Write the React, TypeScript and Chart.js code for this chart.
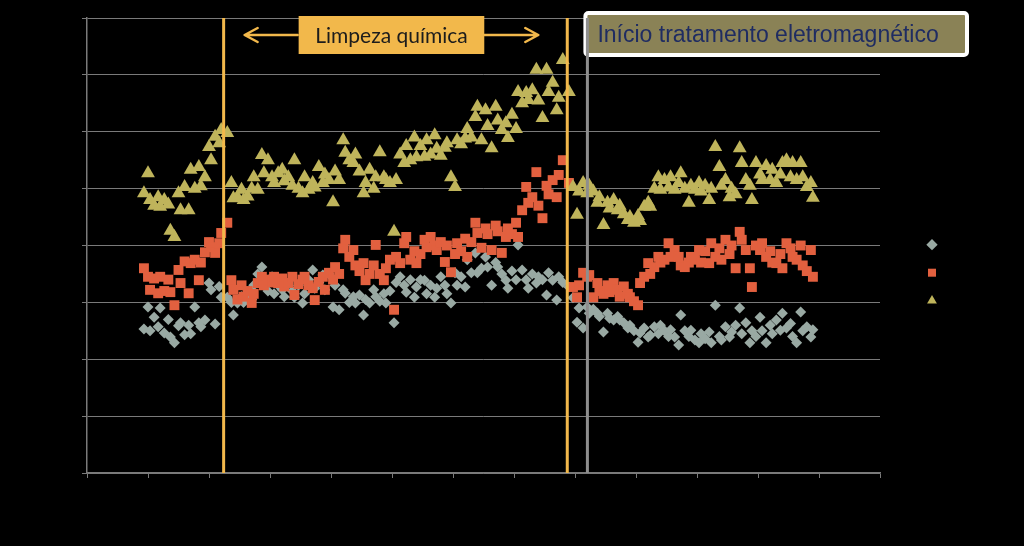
import { useEffect, useRef } from 'react';
import { Chart, registerables } from 'chart.js';

Chart.register(...registerables);

// Dias de medição (eixo X)
const dias = [
  28, 30, 31, 33, 35, 36, 38, 40, 41, 43, 45, 46, 48, 50, 51, 53, 55, 56, 58, 60, 61, 63, 65, 66,
  69, 71, 72, 74, 76, 77, 79, 81, 82, 84,
  86, 87, 89, 91, 92, 94, 96, 97, 99, 101,
  102, 104, 106, 107, 109, 111, 112, 114, 116, 117,
  119, 121, 122, 124, 126, 127, 129, 131, 132, 134,
  136, 137, 139, 141, 142, 144, 146, 147, 149, 151,
  152, 154, 156, 157, 159, 161, 162, 164, 166, 167,
  169, 171, 172, 174, 176, 177, 179, 181, 182, 184,
  186, 187, 189, 191, 192, 194, 196, 197, 199, 201,
  202, 204, 206, 207, 209, 211, 212, 214, 216, 217,
  219, 221, 222, 224, 226, 227, 229, 231, 232, 234, 237,
  239, 241, 242, 244, 246, 247, 249, 251, 252, 254,
  256, 257, 259, 261, 262, 264, 266, 267, 269, 271,
  272, 274, 276, 277, 279, 281, 282, 284, 286, 287,
  289, 291, 292, 294, 296, 297, 299, 301, 302, 304,
  306, 307, 309, 311, 312, 314, 316, 317, 319, 321,
  322, 324, 326, 327, 329, 331, 332, 334, 336, 337,
  339, 341, 342, 344, 346, 347, 349, 351, 352, 354, 356, 357,
];

// Série 1 (losangos cinza)
const serieCinza = [
  25.3, 29.2, 25.0, 27.4, 25.7, 29.0, 24.6, 27.0, 23.9, 22.9, 25.9, 26.4, 24.3, 26.0, 24.5, 29.2, 26.4, 25.7, 26.9, 33.4, 32.2, 26.2, 32.8, 30.9,
  30.9, 30.0, 27.8, 29.9, 31.0, 30.0, 31.5, 30.5, 33.0, 35.0,
  36.2, 33.4, 32.0, 34.5, 31.5, 33.0, 32.2, 31.0, 33.4, 32.0,
  30.9, 33.0, 29.9, 31.5, 34.0, 35.7, 32.5, 33.5, 34.8, 32.2,
  35.0, 29.2, 33.0, 28.7, 32.2, 31.6, 30.0, 31.0, 29.9, 31.3,
  27.8, 30.5, 29.9, 32.2, 31.0, 30.2, 31.5, 29.9, 32.0, 26.4,
  33.5, 34.5, 33.0, 31.8, 34.0, 30.9, 32.7, 34.0, 33.9, 31.5,
  33.0, 30.9, 32.5, 34.5, 33.0, 31.5, 29.9, 35.2, 33.0, 34.5,
  32.7, 37.5, 35.2, 38.7, 35.2, 36.0, 38.0, 36.2, 33.0, 37.0,
  36.2, 35.0, 33.9, 32.5, 35.5, 34.0, 40.1, 35.7, 34.0, 32.5,
  35.0, 33.4, 34.5, 34.0, 31.3, 35.2, 33.9, 30.4, 34.5, 33.5, 32.7,
  30.8, 26.5, 29.0, 25.5, 29.2, 28.1, 28.8, 28.1, 27.5, 24.8,
  28.1, 27.2, 26.9, 27.5, 26.9, 26.4, 25.5, 26.0, 25.0, 23.0,
  24.6, 25.5, 23.9, 24.2, 25.7, 24.5, 26.0, 25.0, 24.0, 25.2,
  23.9, 22.5, 27.8, 25.0, 24.0, 25.1, 23.4, 22.9, 24.5, 23.6,
  24.8, 22.9, 29.5, 24.0, 23.4, 25.7, 23.9, 24.8, 26.0, 29.0,
  24.5, 26.4, 22.9, 25.0, 24.0, 27.4, 25.0, 22.9, 26.0, 24.5,
  26.9, 25.1, 28.1, 25.5, 26.3, 24.0, 22.9, 28.3, 25.0, 25.7, 23.9, 25.2,
];

// Série 2 (quadrados vermelhos)
const serieVermelha = [
  36.0, 34.5, 32.2, 34.2, 31.6, 34.5, 32.0, 34.0, 31.8, 29.5, 35.7, 33.4, 37.2, 31.6, 36.9, 37.5, 33.9, 37.0, 38.8, 40.6, 39.7, 38.7, 40.4, 42.2,
  44.0, 33.9, 32.2, 30.5, 33.0, 31.0, 32.0, 29.9, 31.5, 33.4,
  34.5, 33.0, 34.0, 33.5, 34.5, 33.4, 34.2, 32.8, 33.4, 34.5,
  31.3, 33.2, 34.0, 34.5, 33.0, 32.5, 30.4, 33.6, 34.5, 32.2,
  35.2, 34.0, 36.2, 35.0, 39.5, 41.0, 38.0, 39.2, 36.5, 35.5,
  36.9, 33.9, 35.0, 36.5, 40.1, 35.0, 33.9, 36.0, 37.5, 28.7,
  38.0, 36.9, 40.4, 41.5, 37.5, 39.0, 36.9, 38.5, 41.0, 39.7,
  41.5, 40.0, 39.2, 40.6, 37.1, 40.0, 35.3, 38.5, 40.4, 39.0,
  41.2, 38.0, 40.6, 44.0, 42.2, 39.6, 43.0, 42.0, 39.2, 43.5,
  42.5, 38.7, 41.5, 43.0, 42.0, 44.0, 41.5, 46.2, 50.3, 47.5,
  48.5, 52.9, 47.0, 44.8, 50.5, 49.0, 51.5, 48.5, 52.4, 55.0, 51.0,
  32.7, 30.9, 33.0, 35.2, 34.5, 34.8, 30.9, 33.4, 32.0, 31.5,
  33.0, 31.8, 33.4, 32.2, 31.0, 32.8, 31.5, 30.9, 30.2, 29.5,
  33.4, 34.5, 36.9, 35.0, 36.2, 38.0, 37.0, 37.5, 40.4, 38.0,
  39.2, 38.0, 36.5, 36.2, 37.0, 38.0, 37.5, 39.2, 37.0, 39.0,
  36.9, 40.4, 38.0, 39.5, 37.5, 41.0, 38.5, 40.0, 36.0, 42.4,
  41.0, 39.2, 36.0, 32.7, 40.0, 39.2, 40.4, 38.0, 39.0, 37.0,
  36.9, 38.5, 36.0, 40.4, 39.5, 38.0, 37.5, 40.0, 36.5, 35.5, 39.2, 34.5,
];

// Série 3 (triângulos amarelos)
const serieAmarela = [
  49.2, 52.7, 48.0, 47.0, 48.5, 46.8, 48.0, 47.2, 42.6, 41.5, 49.2, 46.2, 50.3, 46.2, 53.3, 50.0, 53.8, 50.4, 52.0, 57.3, 55.0, 59.1, 58.0, 60.3,
  59.8, 51.0, 48.3, 48.5, 49.8, 48.0, 48.6, 50.0, 52.0, 49.8,
  55.9, 52.7, 55.0, 52.0, 51.0, 52.7, 53.3, 51.3, 52.0, 50.5,
  55.0, 50.0, 49.2, 52.0, 49.8, 51.0, 50.2, 53.8, 51.0, 52.5,
  51.5, 47.6, 53.0, 51.5, 58.5, 56.3, 55.0, 54.5, 56.0, 53.0,
  49.2, 51.0, 53.3, 50.0, 52.0, 56.4, 52.0, 51.5, 51.0, 42.4,
  51.5, 56.0, 54.5, 57.5, 55.0, 59.0, 55.5, 57.5, 55.6, 58.5,
  56.0, 59.4, 57.0, 55.8, 57.2, 58.0, 52.0, 50.3, 58.5, 57.8,
  58.8, 60.5, 59.0, 62.6, 64.4, 58.5, 63.8, 61.0, 57.1, 64.4,
  62.0, 60.3, 61.5, 58.9, 63.0, 60.5, 67.0, 65.0, 66.8, 65.6,
  67.3, 70.9, 65.5, 62.4, 70.9, 67.0, 68.6, 63.8, 66.0, 72.6, 67.0,
  50.3, 45.4, 49.5, 51.0, 49.2, 50.5, 49.5, 47.5, 48.5, 43.6,
  47.5, 46.5, 48.0, 46.2, 47.0, 45.5, 44.5, 45.0, 44.0, 45.2,
  44.3, 46.8, 47.5, 46.8, 50.0, 52.0, 49.8, 51.5, 50.2, 52.0,
  49.8, 51.0, 52.7, 50.0, 47.5, 50.5, 49.8, 51.0, 49.5, 50.5,
  48.0, 50.0, 57.3, 53.8, 50.5, 51.5, 48.5, 50.0, 49.0, 57.1,
  54.5, 51.5, 50.5, 48.0, 54.5, 52.5, 51.5, 54.0, 51.5, 53.3,
  51.0, 52.5, 54.5, 55.0, 52.0, 54.5, 51.5, 54.5, 52.0, 50.3, 51.0, 48.4,
];

const nomesSeries = ['Série 1', 'Série 2', 'Série 3'];
// Início limpeza, fim limpeza, início tratamento eletromagnético
const marcosVerticais = [67.2, 236.2, 246.1];
const textoLimpeza = 'Limpeza química';
const textoTratamento = 'Início tratamento eletromagnético';

const xMin = 0;
const xMax = 390;
const xPasso = 30;
const yMin = 0;
const yMax = 80;
const yPasso = 10;

const corCinza = '#99A9A3';
const corVermelha = '#E2603F';
const corAmarela = '#BFB45B';
const corLaranja = '#F2B84B';
const corLinhaTrat = '#8E8E8E';
const corGrade = '#7A7A7A';

const anotacoes = {
  id: 'anotacoes',
  beforeDatasetsDraw(chart: any) {
    const ctx = chart.ctx;
    const xs = chart.scales.x;
    const xL1 = xs.getPixelForValue(marcosVerticais[0]);
    const xL2 = xs.getPixelForValue(marcosVerticais[1]);
    const xT = xs.getPixelForValue(marcosVerticais[2]);
    ctx.save();

    // Caixa "Limpeza química"
    const bL = xL1 + 75;
    const bR = xL2 - 83;
    const bT = 16;
    const bB = 54;
    ctx.fillStyle = corLaranja;
    ctx.fillRect(bL, bT, bR - bL, bB - bT);
    ctx.fillStyle = '#1c1c1c';
    ctx.font = '21px Lato';
    ctx.textAlign = 'center';
    ctx.textBaseline = 'alphabetic';
    ctx.fillText(textoLimpeza, (bL + bR) / 2, 43);

    // Setas
    const yA = 35;
    ctx.strokeStyle = corLaranja;
    ctx.lineWidth = 2.5;
    ctx.lineCap = 'round';
    ctx.lineJoin = 'round';
    const tipL = xL1 + 21;
    const tipR = xL2 - 29;
    ctx.beginPath();
    ctx.moveTo(bL - 1, yA);
    ctx.lineTo(tipL, yA);
    ctx.moveTo(tipL + 13, yA - 7);
    ctx.lineTo(tipL, yA);
    ctx.lineTo(tipL + 13, yA + 7);
    ctx.moveTo(bR, yA);
    ctx.lineTo(tipR, yA);
    ctx.moveTo(tipR - 13, yA - 7);
    ctx.lineTo(tipR, yA);
    ctx.lineTo(tipR - 13, yA + 7);
    ctx.stroke();

    // Caixa "Início tratamento eletromagnético"
    const oL = xT - 2;
    const oR = 967;
    const oT = 13;
    const oB = 55;
    ctx.beginPath();
    ctx.roundRect(oL, oT, oR - oL, oB - oT, 3);
    ctx.fillStyle = '#8A8256';
    ctx.fill();
    ctx.lineWidth = 4;
    ctx.strokeStyle = '#FFFFFF';
    ctx.stroke();
    ctx.fillStyle = '#1F2C62';
    ctx.font = '23px "Liberation Sans"';
    ctx.textAlign = 'left';
    ctx.fillText(textoTratamento, xT + 10, 42);

    ctx.restore();
  },
};

function linhaVertical(x: number, cor: string, nome: string) {
  return {
    label: nome,
    data: [
      { x, y: yMin },
      { x, y: yMax },
    ],
    showLine: true,
    borderColor: cor,
    backgroundColor: cor,
    borderWidth: 3,
    pointRadius: 0,
    order: 0,
  };
}

export default function App() {
  const ref = useRef<HTMLCanvasElement | null>(null);

  useEffect(() => {
    if (!ref.current) return;
    const chart = new Chart(ref.current, {
      type: 'scatter',
      data: {
        datasets: [
          {
            label: nomesSeries[0],
            data: dias.map((d, i) => ({ x: d, y: serieCinza[i] })),
            pointStyle: 'rectRot',
            pointRadius: 5.5,
            backgroundColor: corCinza,
            borderWidth: 0,
            order: 3,
          },
          {
            label: nomesSeries[1],
            data: dias.map((d, i) => ({ x: d, y: serieVermelha[i] })),
            pointStyle: 'rect',
            pointRadius: 7,
            backgroundColor: corVermelha,
            borderWidth: 0,
            order: 2,
          },
          {
            label: nomesSeries[2],
            data: dias.map((d, i) => ({ x: d, y: serieAmarela[i] })),
            pointStyle: 'triangle',
            pointRadius: 8,
            backgroundColor: corAmarela,
            borderWidth: 0,
            order: 1,
          },
          linhaVertical(marcosVerticais[0], corLaranja, 'Início limpeza'),
          linhaVertical(marcosVerticais[1], corLaranja, 'Fim limpeza'),
          linhaVertical(marcosVerticais[2], corLinhaTrat, 'Início tratamento'),
        ] as any,
      },
      options: {
        animation: false,
        responsive: false,
        devicePixelRatio: 1,
        events: [],
        layout: { padding: { left: 82, top: 18, right: 44, bottom: 68 } },
        scales: {
          x: {
            type: 'linear',
            min: xMin,
            max: xMax,
            ticks: { display: false, stepSize: xPasso },
            grid: { display: true, drawOnChartArea: false, drawTicks: true, tickLength: 5, color: corGrade },
            border: { display: true, color: corGrade, width: 1.5 },
          },
          y: {
            type: 'linear',
            min: yMin,
            max: yMax,
            ticks: { display: false, stepSize: yPasso },
            grid: { display: true, drawOnChartArea: true, drawTicks: true, tickLength: 5, color: corGrade },
            border: { display: true, color: corGrade, width: 1.5 },
          },
          y2: {
            type: 'linear',
            position: 'right',
            display: true,
            ticks: { display: false },
            grid: { display: false, drawTicks: false },
            border: { display: false },
            afterFit: (s: any) => {
              s.width = 30;
            },
          },
        } as any,
        plugins: {
          tooltip: { enabled: false },
          legend: {
            position: 'right',
            maxWidth: 70,
            title: { display: true, text: '', padding: { top: 0, bottom: 35 }, font: { size: 12 }, color: '#000' },
            labels: {
              usePointStyle: true,
              boxHeight: 8,
              padding: 16,
              color: '#000',
              font: { size: 12 },
              filter: (item: any) => item.datasetIndex < 3,
              sort: (a: any, b: any) => a.datasetIndex - b.datasetIndex,
            },
          },
        } as any,
      },
      plugins: [anotacoes],
    });
    return () => chart.destroy();
  }, []);

  return (
    <div style={{ position: 'fixed', left: 0, top: 0, width: 1024, height: 546, background: '#000' }}>
      <canvas ref={ref} width={1024} height={546} />
    </div>
  );
}
